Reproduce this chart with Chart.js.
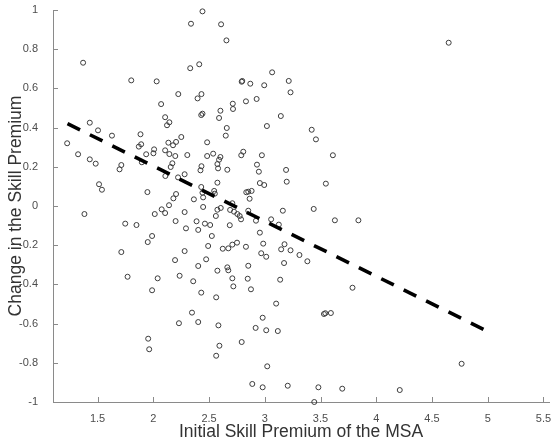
<!DOCTYPE html>
<html>
<head>
<meta charset="utf-8">
<script src="https://cdn.jsdelivr.net/npm/chart.js@4/dist/chart.umd.min.js"></script>
<style>
  html, body { margin: 0; padding: 0; background: #ffffff; }
  #wrap { width: 554px; height: 443px; }
</style>
</head>
<body>
<div id="wrap"><canvas id="c" width="554" height="443"></canvas></div>
<script>
// ---- data ----
const xValues = [
  1.370,1.802,2.030,2.224,2.338,2.331,2.397,2.070,2.106,2.144,
  2.123,1.430,1.504,1.629,1.885,1.227,1.870,1.891,2.007,2.001,
  2.135,2.177,2.204,2.251,2.106,2.144,2.197,2.305,1.325,1.936,
  1.430,1.483,1.897,1.713,1.697,2.171,2.156,2.108,2.222,2.281,
  1.513,1.539,1.947,2.204,2.180,2.364,1.382,1.748,1.849,1.713,
  1.769,1.950,1.989,2.013,2.075,2.106,2.141,2.200,2.281,2.293,
  2.388,2.403,2.039,1.989,2.195,2.281,2.236,2.358,2.403,2.347,
  2.230,2.403,1.954,1.963,2.441,2.608,2.656,2.412,3.066,2.798,
  2.793,2.870,2.995,3.215,3.231,2.432,2.713,2.715,2.602,2.590,
  2.831,2.927,3.144,3.019,2.430,2.441,2.659,2.650,2.483,2.483,
  2.537,2.602,2.590,2.575,2.581,2.789,2.807,2.974,2.930,2.947,
  3.191,3.197,3.421,3.459,3.611,3.548,2.423,2.432,2.664,2.575,
  2.430,2.956,2.995,2.834,2.852,2.882,2.546,2.552,2.441,2.447,2.864,
  2.447,2.575,2.605,2.709,2.689,2.724,2.754,2.775,2.787,2.852,
  3.162,3.439,2.463,2.510,2.561,2.525,2.686,2.921,3.057,3.126,
  2.956,3.629,3.840,2.492,2.623,2.673,2.709,2.751,2.831,2.986,
  2.968,3.013,3.177,3.147,3.231,3.311,3.382,3.173,2.474,2.575,
  2.664,2.673,2.852,2.709,2.718,2.847,2.876,3.138,2.430,2.564,
  3.787,3.102,2.584,2.981,2.918,3.013,3.117,3.531,3.543,3.593,
  2.593,2.793,2.564,3.022,2.888,2.981,3.206,3.481,3.695,3.444,4.211,4.766,4.650
];
const yValues = [
  0.731,0.641,0.636,0.571,0.930,0.703,0.549,0.520,0.453,0.427,
  0.412,0.425,0.386,0.359,0.366,0.320,0.303,0.315,0.289,0.269,
  0.323,0.310,0.327,0.352,0.284,0.265,0.255,0.260,0.264,0.264,
  0.238,0.216,0.223,0.209,0.187,0.218,0.199,0.153,0.146,0.162,
  0.111,0.083,0.071,0.061,0.039,0.034,-0.041,-0.090,-0.097,-0.235,
  -0.361,-0.184,-0.153,-0.041,-0.017,-0.036,0.004,-0.077,-0.031,-0.114,
  -0.078,-0.122,-0.369,-0.430,-0.276,-0.230,-0.356,-0.384,-0.306,-0.544,
  -0.598,-0.592,-0.677,-0.731,0.993,0.927,0.845,0.723,0.682,0.638,
  0.634,0.624,0.616,0.638,0.580,0.571,0.522,0.495,0.486,0.449,
  0.534,0.546,0.459,0.408,0.464,0.471,0.398,0.359,0.325,0.255,
  0.267,0.250,0.236,0.214,0.192,0.259,0.277,0.259,0.211,0.175,
  0.184,0.124,0.389,0.340,0.259,0.114,0.182,0.203,0.185,0.119,
  0.097,0.117,0.107,0.070,0.073,0.077,0.077,0.063,0.068,0.044,0.037,
  -0.005,-0.019,-0.010,0.014,-0.020,-0.029,-0.041,-0.051,-0.068,-0.024,
  -0.024,-0.015,-0.090,-0.097,-0.051,-0.153,-0.098,-0.075,-0.068,-0.095,
  -0.136,-0.073,-0.073,-0.204,-0.218,-0.216,-0.197,-0.187,-0.208,-0.192,
  -0.241,-0.259,-0.195,-0.221,-0.226,-0.250,-0.282,-0.291,-0.272,-0.330,
  -0.313,-0.328,-0.305,-0.369,-0.410,-0.371,-0.425,-0.376,-0.442,-0.466,
  -0.417,-0.498,-0.609,-0.570,-0.622,-0.634,-0.638,-0.551,-0.547,-0.546,
  -0.713,-0.694,-0.764,-0.818,-0.908,-0.925,-0.917,-0.925,-0.932,-1.000,-0.939,-0.805,0.833
];
const fitX = [1.23, 5.03];
const fitY = [0.42, -0.648];
const xTickValues = [1.5, 2, 2.5, 3, 3.5, 4, 4.5, 5, 5.5];
const yTickValues = [-1, -0.8, -0.6, -0.4, -0.2, 0, 0.2, 0.4, 0.6, 0.8, 1];
const xTitle = 'Initial Skill Premium of the MSA';
const yTitle = 'Change in the Skill Premium';

// ---- build library structures ----
const scatterData = xValues.map((x, i) => ({ x: x, y: yValues[i] }));
const fitData = fitX.map((x, i) => ({ x: x, y: fitY[i] }));

const FONT = "'Liberation Sans', Arial, Helvetica, sans-serif";
const AXIS_COLOR = '#8a8a8a';

const insideTicks = {
  id: 'insideTicks',
  afterDatasetsDraw(chart) {
    const { ctx, chartArea, scales } = chart;
    const xs = scales.x, ys = scales.y;
    ctx.save();
    ctx.strokeStyle = AXIS_COLOR;
    ctx.lineWidth = 1;
    ctx.beginPath();
    xs.ticks.forEach(t => {
      const px = Math.round(xs.getPixelForValue(t.value)) + 0.5;
      ctx.moveTo(px, chartArea.bottom);
      ctx.lineTo(px, chartArea.bottom - 5);
    });
    ys.ticks.forEach(t => {
      const py = Math.round(ys.getPixelForValue(t.value)) + 0.5;
      ctx.moveTo(chartArea.left, py);
      ctx.lineTo(chartArea.left + 5, py);
    });
    ctx.stroke();
    ctx.restore();
  }
};

new Chart(document.getElementById('c'), {
  type: 'scatter',
  data: {
    datasets: [
      {
        label: 'MSA',
        data: scatterData,
        showLine: false,
        pointStyle: 'circle',
        pointRadius: 2.5,
        pointBorderWidth: 1,
        pointBorderColor: '#3c3c3c',
        pointBackgroundColor: 'rgba(0,0,0,0)',
        clip: false,
        order: 2
      },
      {
        label: 'Fit',
        type: 'line',
        data: fitData,
        showLine: true,
        borderColor: '#000000',
        borderWidth: 3.6,
        borderDash: [14, 11],
        pointRadius: 0,
        fill: false,
        order: 1
      }
    ]
  },
  options: {
    responsive: false,
    animation: false,
    layout: { padding: { top: 10, right: 3, left: 0, bottom: 0 } },
    plugins: { legend: { display: false }, tooltip: { enabled: false } },
    scales: {
      x: {
        type: 'linear',
        min: 1.1,
        max: 5.55,
        afterBuildTicks: s => { s.ticks = xTickValues.map(v => ({ value: v })); },
        afterFit: s => { s.height = 41; s.paddingLeft = 0; s.paddingRight = 0; },
        grid: { display: false },
        border: { display: true, color: AXIS_COLOR, width: 1 },
        ticks: {
          autoSkip: false, maxRotation: 0, padding: 2,
          font: { family: FONT, size: 11 }, color: '#4d4d4d',
          callback: v => String(v)
        },
        title: {
          display: true, text: xTitle, color: '#333333',
          font: { family: FONT, size: 17.5 }, padding: { top: 0, bottom: 0 }
        }
      },
      y: {
        type: 'linear',
        min: -1,
        max: 1,
        afterBuildTicks: s => { s.ticks = yTickValues.map(v => ({ value: v })); },
        afterFit: s => { s.width = 53; s.paddingTop = 0; s.paddingBottom = 0; },
        grid: { display: false },
        border: { display: true, color: AXIS_COLOR, width: 1 },
        ticks: {
          autoSkip: false, padding: 7,
          font: { family: FONT, size: 11 }, color: '#4d4d4d',
          callback: v => String(v)
        },
        title: {
          display: true, text: yTitle, color: '#333333',
          font: { family: FONT, size: 17.5 }, padding: { top: 6, bottom: 0 }
        }
      }
    }
  },
  plugins: [insideTicks]
});
</script>
</body>
</html>
